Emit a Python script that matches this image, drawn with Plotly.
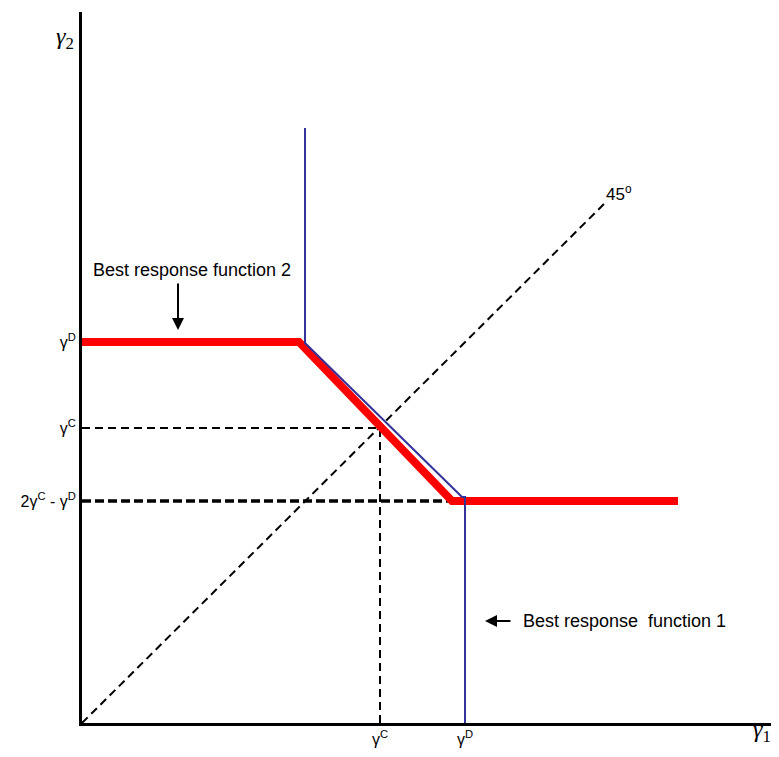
"""Best response functions diagram with Plotly."""

import plotly.graph_objects as go

# ── Data (axis units, origin at lower-left) ───────────────────────────────────
br2_x = [0, 2.17, 3.70, 5.96]          # best response function 2 (red)
br2_y = [3.81, 3.81, 2.22, 2.22]
br1_x = [2.23, 2.23, 3.80, 3.83, 3.83]  # best response function 1 (blue)
br1_y = [5.95, 3.80, 2.26, 2.26, 0]
diag_x = [0, 5.24]                      # 45 degree line
diag_y = [0, 5.21]
gc_x = [0, 2.98, 2.98]                  # gamma^C guides
gc_y = [2.95, 2.95, 0]
low_x = [0, 3.70]                       # 2gC - gD guide
low_y = [2.22, 2.22]

x_tickvals = [2.98, 3.83]
x_ticktext = ["γ<sup>C</sup>", "γ<sup>D</sup>"]
y_tickvals = [3.81, 2.95, 2.22]
y_ticktext = ["γ<sup>D</sup>", "γ<sup>C</sup>", "2γ<sup>C</sup> - γ<sup>D</sup>"]

_RED = "#FF0000"
_BLUE = "#33339A"
_FONT = "Liberation Sans, Arial, sans-serif"
_SERIF = "Liberation Serif, Times New Roman, serif"

fig = go.Figure()
fig.add_trace(go.Scatter(x=diag_x, y=diag_y, mode="lines",
                         line=dict(color="black", width=2, dash="8px,5px")))
fig.add_trace(go.Scatter(x=gc_x, y=gc_y, mode="lines",
                         line=dict(color="black", width=2, dash="8px,5px")))
fig.add_trace(go.Scatter(x=low_x, y=low_y, mode="lines",
                         line=dict(color="black", width=3.5, dash="9px,4px")))
fig.add_trace(go.Scatter(x=br2_x, y=br2_y, mode="lines",
                         line=dict(color=_RED, width=8)))
fig.add_trace(go.Scatter(x=br1_x, y=br1_y, mode="lines",
                         line=dict(color=_BLUE, width=2)))

# labels and arrows
fig.add_annotation(x=1.1, y=4.53, text="Best response function 2", showarrow=False,
                   font=dict(family=_FONT, size=18, color="black"))
fig.add_annotation(x=0.96, y=3.93, ax=0.96, ay=4.41, xref="x", yref="y",
                   axref="x", ayref="y", text="", showarrow=True,
                   arrowhead=2, arrowsize=1.2, arrowwidth=2, arrowcolor="black")
fig.add_annotation(x=4.39, y=1.02, text="Best response  function 1", showarrow=False,
                   xanchor="left", font=dict(family=_FONT, size=18, color="black"))
fig.add_annotation(x=4.03, y=1.02, ax=4.3, ay=1.02, xref="x", yref="y",
                   axref="x", ayref="y", text="", showarrow=True,
                   arrowhead=2, arrowsize=1.2, arrowwidth=2, arrowcolor="black")
fig.add_annotation(x=5.22, y=5.3, text="45<sup>o</sup>", showarrow=False,
                   xanchor="left", font=dict(family=_FONT, size=17, color="black"))
fig.add_annotation(x=6.8, y=-0.035, yref="paper", text="<i>γ</i><sub>1</sub>",
                   showarrow=False, font=dict(family=_SERIF, size=24, color="black"))
fig.add_annotation(x=-0.04, xref="paper", y=6.85, text="<i>γ</i><sub>2</sub>",
                   showarrow=False, font=dict(family=_SERIF, size=24, color="black"))

# page body adds an 8px offset, so the figure is trimmed to match
fig.update_layout(
    width=771, height=749,
    margin=dict(l=74, r=0, t=4, b=34),
    showlegend=False,
    plot_bgcolor="white", paper_bgcolor="white",
    xaxis=dict(range=[0, 6.97], showgrid=False, zeroline=False,
               showline=True, linecolor="black", linewidth=2.5,
               tickvals=x_tickvals, ticktext=x_ticktext, ticks="",
               tickfont=dict(family=_FONT, size=16, color="black")),
    yaxis=dict(range=[0, 7.11], showgrid=False, zeroline=False,
               showline=True, linecolor="black", linewidth=3,
               tickvals=y_tickvals, ticktext=y_ticktext, ticks="",
               tickfont=dict(family=_FONT, size=16, color="black")),
)

fig.write_html("out.html")
